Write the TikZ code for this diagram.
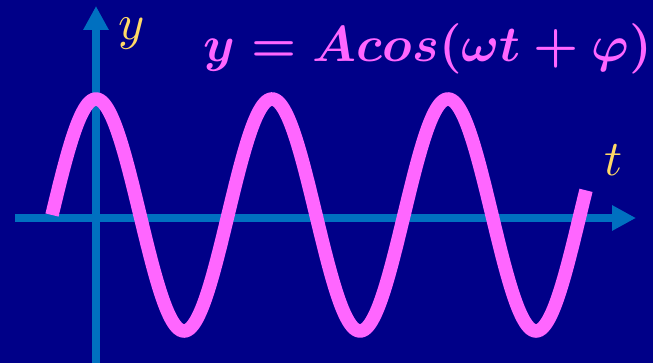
\documentclass[tikz,border=0pt]{standalone}
\usetikzlibrary{arrows.meta}
\definecolor{navy}{RGB}{0,0,136}
\definecolor{axisblue}{RGB}{0,112,192}
\definecolor{wavepink}{RGB}{255,102,255}
\definecolor{labelyellow}{RGB}{255,217,102}
\tikzset{
  axisline/.style={draw=axisblue, line width=7.5pt, -{Triangle[length=24pt,width=24pt]}},
  wave/.style={draw=wavepink, line width=13.5pt},
  axislabel/.style={text=labelyellow, scale=5, transform shape, inner sep=0pt, anchor=base},
  eqlabel/.style={text=wavepink, font=\boldmath, scale=5.05, transform shape, inner sep=0pt, anchor=base}
}
\begin{document}
\begin{tikzpicture}[x=1pt,y=-1pt]
\fill[navy] (0,0) rectangle (653,363);
\useasboundingbox (0,0) rectangle (653,363);
\coordinate (xs) at (15,218);
\coordinate (xe) at (636,218);
\coordinate (ys) at (96,363);
\coordinate (ye) at (96,6);
\draw[axisline] (xs) -- (xe);
\draw[axisline] (ys) -- (ye);
\draw[wave, domain=52:586, samples=300, smooth, variable=\x] plot (\x, {215 - 116*cos(2.04545*(\x-96))});
\node[axislabel] (ylab) at (132,40) {$y$};
\node[axislabel] (tlab) at (614,176) {$t$};
\node[eqlabel] (eq) at (428,62) {$y=Acos(\omega t+\varphi)$};
\end{tikzpicture}
\end{document}
